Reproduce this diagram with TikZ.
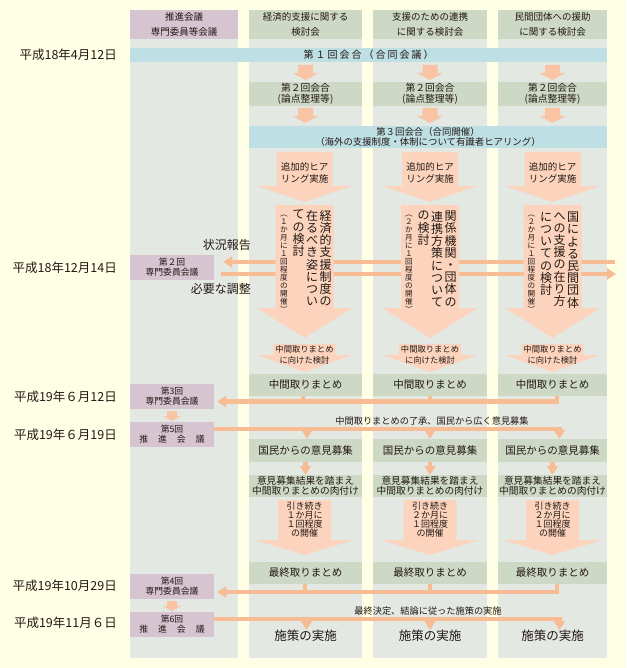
\documentclass[tikz,border=0pt]{standalone}
\usepackage{fontspec}
\setmainfont{Noto Sans CJK JP}
\usetikzlibrary{arrows.meta}
\definecolor{bgc}{HTML}{FFFFE5}
\definecolor{colc}{HTML}{E3E8E3}
\definecolor{grn}{HTML}{CDD9C4}
\definecolor{pur}{HTML}{D6C4D0}
\definecolor{blu}{HTML}{BEE0E4}
\definecolor{afill}{HTML}{FCD4BD}
\definecolor{linec}{HTML}{F8BC95}
\definecolor{sarr}{HTML}{F9C4A3}
\definecolor{txt}{HTML}{231815}
\newcommand\fsz[2]{\fontsize{#1}{#2}\selectfont}
\ExplSyntaxOn
\NewDocumentCommand\VStack{mm}{
  \vbox{\baselineskip=#1\lineskiplimit=-100pt\lineskip=0pt
    \tl_map_inline:nn {#2} { \hbox_to_wd:nn {1em} { \hss ##1 \hss } }
  }
}
\NewDocumentCommand\Spaced{mm}{
  \hbox:n { \kern-#1 \tl_map_inline:nn {#2} { \kern#1 ##1 } }
}
\ExplSyntaxOff
% color, cx, top, head start, tip, shaft half, head half
\newcommand\BlockArr[7]{\fill[#1] ({#2-#6},#3) -- ({#2+#6},#3) -- ({#2+#6},#4) -- ({#2+#7},#4) -- (#2,#5) -- ({#2-#7},#4) -- ({#2-#6},#4) -- cycle;}
\tikzset{
  box/.style={inner sep=0pt, align=center, text=txt},
  gbox/.style={box, fill=grn},
  hdr/.style={box, fill=grn, minimum height=29pt, font={\fsz{9.5}{15}}},
  pbox/.style={box, fill=pur, minimum width=84pt, minimum height=25pt, font={\fsz{8.8}{10}}},
  conn/.style={draw=linec, line width=4.5pt},
  tipL/.style={-{Triangle[length=9pt,width=11pt]}},
  vtxt/.style={inner sep=0pt, text=txt, anchor=north},
  date/.style={box, anchor=east, font={\fsz{12.5}{14}}},
}
\begin{document}
\begin{tikzpicture}[x=1pt,y=-1pt]
\useasboundingbox (0,0) rectangle (626,668);
\fill[bgc] (0,0) rectangle (626,668);
% column bodies
\fill[colc] (130,10) rectangle (238,658);
\fill[colc] (249,10) rectangle (362,658);
\fill[colc] (373,10) rectangle (487,658);
\fill[colc] (498,10) rectangle (607,658);
% headers
\node[box, fill=pur, minimum width=108pt, minimum height=29pt, font={\fsz{9.5}{15}}] (hL) at (184,24.5) {推進会議\\専門委員等会議};
\node[hdr, minimum width=113pt] (h1) at (305.5,24.5) {経済的支援に関する\\検討会};
\node[hdr, minimum width=114pt] (h2) at (430,24.5) {支援のための連携\\に関する検討会};
\node[hdr, minimum width=109pt] (h3) at (552.5,24.5) {民間団体への援助\\に関する検討会};
% row 1
\node[box, fill=blu, minimum width=477pt, minimum height=14pt, font={\fsz{10}{12}}] (r1) at (368.5,55) {\Spaced{2pt}{第１回会合（合同会議）}};
\BlockArr{sarr}{305.5}{65}{73}{80}{7.5}{13}
\BlockArr{sarr}{430}{65}{73}{80}{7.5}{13}
\BlockArr{sarr}{552.5}{65}{73}{80}{7.5}{13}
% row 2
\node[gbox, minimum width=113pt, minimum height=24pt, font={\fsz{9.8}{10.5}}] (a1) at (305.5,94) {第２回会合\\(論点整理等)};
\node[gbox, minimum width=114pt, minimum height=24pt, font={\fsz{9.8}{10.5}}] (a2) at (430,94) {第２回会合\\(論点整理等)};
\node[gbox, minimum width=109pt, minimum height=24pt, font={\fsz{9.8}{10.5}}] (a3) at (552.5,94) {第２回会合\\(論点整理等)};
\BlockArr{sarr}{305.5}{108}{116}{123}{7.5}{13}
\BlockArr{sarr}{430}{108}{116}{123}{7.5}{13}
\BlockArr{sarr}{552.5}{108}{116}{123}{7.5}{13}
% row 3
\node[box, fill=blu, minimum width=358pt, minimum height=22pt, font={\fsz{9.4}{10}}] (r3) at (428,137) {第３回会合（合同開催）\\（海外の支援制度・体制について有識者ヒアリング）};
% green boxes lower
\node[gbox, minimum width=113pt, minimum height=22pt, font={\fsz{10.5}{12}}] (m1) at (305.5,385) {中間取りまとめ};
\node[gbox, minimum width=114pt, minimum height=22pt, font={\fsz{10.5}{12}}] (m2) at (430,385) {中間取りまとめ};
\node[gbox, minimum width=109pt, minimum height=22pt, font={\fsz{10.5}{12}}] (m3) at (552.5,385) {中間取りまとめ};
\node[gbox, minimum width=113pt, minimum height=23pt, font={\fsz{10.5}{12}}] (n1) at (305.5,450.5) {国民からの意見募集};
\node[gbox, minimum width=114pt, minimum height=23pt, font={\fsz{10.5}{12}}] (n2) at (430,450.5) {国民からの意見募集};
\node[gbox, minimum width=109pt, minimum height=23pt, font={\fsz{10.5}{12}}] (n3) at (552.5,450.5) {国民からの意見募集};
\node[gbox, minimum width=113pt, minimum height=22pt, font={\fsz{9.7}{9.5}}] (k1) at (305.5,486) {意見募集結果を踏まえ\\中間取りまとめの肉付け};
\node[gbox, minimum width=114pt, minimum height=22pt, font={\fsz{9.7}{9.5}}] (k2) at (430,486) {意見募集結果を踏まえ\\中間取りまとめの肉付け};
\node[gbox, minimum width=109pt, minimum height=22pt, font={\fsz{9.7}{9.5}}] (k3) at (552.5,486) {意見募集結果を踏まえ\\中間取りまとめの肉付け};
\node[gbox, minimum width=113pt, minimum height=22pt, font={\fsz{10.5}{12}}] (f1) at (305.5,573) {最終取りまとめ};
\node[gbox, minimum width=114pt, minimum height=22pt, font={\fsz{10.5}{12}}] (f2) at (430,573) {最終取りまとめ};
\node[gbox, minimum width=109pt, minimum height=22pt, font={\fsz{10.5}{12}}] (f3) at (552.5,573) {最終取りまとめ};
\node[box, minimum height=12pt, font={\fsz{12.5}{14}}] (s1) at (305.5,636) {施策の実施};
\node[box, minimum height=12pt, font={\fsz{12.5}{14}}] (s2) at (430,636) {施策の実施};
\node[box, minimum height=12pt, font={\fsz{12.5}{14}}] (s3) at (552.5,636) {施策の実施};
% purple boxes
\node[pbox] (p2) at (172,267.5) {第２回\\専門委員会議};
\node[pbox] (p3) at (172,396.5) {第3回\\専門委員会議};
\node[pbox] (p5) at (172,434.5) {第5回\\\Spaced{10pt}{推進会議}};
\node[pbox] (p4) at (172,586.5) {第4回\\専門委員会議};
\node[pbox] (p6) at (172,624.5) {第6回\\\Spaced{10pt}{推進会議}};
\BlockArr{sarr}{172}{411}{416}{421}{5}{9}
\BlockArr{sarr}{172}{601}{606}{611}{5}{9}
% dates
\node[date] (d1) at (117,55) {平成18年4月12日};
\node[date] (d2) at (117,267.5) {平成18年12月14日};
\node[date] (d3) at (117,396.5) {平成19年６月12日};
\node[date] (d4) at (117,434.5) {平成19年６月19日};
\node[date] (d5) at (117,586) {平成19年10月29日};
\node[date] (d6) at (117,623) {平成19年11月６日};
% connectors
\coordinate (sR) at (615,262);
\coordinate (sR2) at (616,274);
\draw[conn, tipL] (sR) -- ([xshift=9pt,yshift=5.5pt]p2.east);
\draw[conn, tipL] ([xshift=7pt,yshift=-6.5pt]p2.east) -- (sR2);
\node[box, anchor=east, font={\fsz{12}{14}}] (lab1) at (251,245) {状況報告};
\node[box, anchor=east, font={\fsz{12}{14}}] (lab2) at (251,289) {必要な調整};
% interim summary line
\coordinate (L3) at ([xshift=3pt,yshift=-5pt]p3.east);
\draw[conn, tipL] ([xshift=4.5pt]m3.south) |- (L3);
\draw[conn] ([xshift=-2.5pt]m1.south) -- ([xshift=-2.5pt]m1.south |- L3);
\draw[conn] (m2.south) -- (m2.south |- L3);
% 5th meeting line
\coordinate (L5) at ([yshift=5.5pt]p5.east);
\draw[conn, tipL] (L5) -| ([xshift=7pt]n3.north);
\draw[conn, tipL] ([xshift=1.5pt]n1.north |- L5) -- ([xshift=1.5pt]n1.north);
\draw[conn, tipL] (n2.north |- L5) -- (n2.north);
\node[box, font={\fsz{9.2}{10}}] (t1) at (432,421.5) {中間取りまとめの了承、国民から広く意見募集};
\draw[conn, tipL] (n1.south) -- (k1.north);
\draw[conn, tipL] (n2.south) -- (k2.north);
\draw[conn, tipL] (n3.south) -- (k3.north);
% final summary line
\coordinate (L4) at ([xshift=3pt,yshift=-5.5pt]p4.east);
\draw[conn, tipL] ([xshift=4.5pt]f3.south) |- (L4);
\draw[conn] ([xshift=-0.5pt]f1.south) -- ([xshift=-0.5pt]f1.south |- L4);
\draw[conn] (f2.south) -- (f2.south |- L4);
% 6th meeting line
\coordinate (L6) at ([yshift=5.5pt]p6.east);
\draw[conn, tipL] (L6) -| ([xshift=7pt]s3.north);
\draw[conn, tipL] ([xshift=1pt]s1.north |- L6) -- ([xshift=1pt]s1.north);
\draw[conn, tipL] (s2.north |- L6) -- (s2.north);
\node[box, font={\fsz{9.2}{10}}] (t2) at (428,611.5) {最終決定、結論に従った施策の実施};
% big arrows
\foreach \cx in {304.5,430,552.5}{
  \BlockArr{afill}{\cx}{152}{186}{202}{28}{47.5}
  \BlockArr{afill}{\cx}{205}{308}{338}{29}{47.5}
  \BlockArr{afill}{\cx}{344}{355}{372}{31}{47.5}
  \BlockArr{afill}{\cx}{500}{540}{555}{26.5}{49}
}
% arrow texts
\node[box, font={\fsz{9.5}{12}}] (e1) at (304.5,173) {追加的ヒア\\リング実施};
\node[box, font={\fsz{9.5}{12}}] (e2) at (430,173) {追加的ヒア\\リング実施};
\node[box, font={\fsz{9.5}{12}}] (e3) at (552.5,173) {追加的ヒア\\リング実施};
\node[box, font={\fsz{8.3}{11}}] (g1) at (304.5,354.5) {中間取りまとめ\\に向けた検討};
\node[box, font={\fsz{8.3}{11}}] (g2) at (430,354.5) {中間取りまとめ\\に向けた検討};
\node[box, font={\fsz{8.3}{11}}] (g3) at (552.5,354.5) {中間取りまとめ\\に向けた検討};
\node[box, font={\fsz{9}{9}}] (j1) at (304.5,519.5) {引き続き\\１か月に\\１回程度\\の開催};
\node[box, font={\fsz{9}{9}}] (j2) at (430,519.5) {引き続き\\２か月に\\１回程度\\の開催};
\node[box, font={\fsz{9}{9}}] (j3) at (552.5,519.5) {引き続き\\２か月に\\１回程度\\の開催};
% vertical texts col 1
\node[vtxt, font={\fsz{12}{12.2}}] (v1a) at (325.5,210) {\VStack{12.2pt}{経済的支援制度の}};
\node[vtxt, font={\fsz{12}{12.2}}] (v1b) at (312,210) {\VStack{12.2pt}{在るべき姿につい}};
\node[vtxt, font={\fsz{12}{12.2}}] (v1c) at (298.5,210) {\VStack{12.2pt}{ての検討}};
\node[vtxt, font={\fsz{7.6}{8}}] (v1d) at (284,215) {\VStack{8pt}{︵１か月に１回程度の開催︶}};
% col 2
\node[vtxt, font={\fsz{12}{12.2}}] (v2a) at (450.5,211) {\VStack{12.2pt}{関係機関・団体の}};
\node[vtxt, font={\fsz{12}{12.2}}] (v2b) at (437,211) {\VStack{12.2pt}{連携方策について}};
\node[vtxt, font={\fsz{12}{12.2}}] (v2c) at (423.5,211) {\VStack{12.2pt}{の検討}};
\node[vtxt, font={\fsz{7.6}{8}}] (v2d) at (409,215) {\VStack{8pt}{︵２か月に１回程度の開催︶}};
% col 3
\node[vtxt, font={\fsz{12}{12.2}}] (v3a) at (573,212) {\VStack{12.2pt}{国による民間団体}};
\node[vtxt, font={\fsz{12}{12.2}}] (v3b) at (559.5,212) {\VStack{12.2pt}{への支援の在り方}};
\node[vtxt, font={\fsz{12}{12.2}}] (v3c) at (546,212) {\VStack{12.2pt}{についての検討}};
\node[vtxt, font={\fsz{7.6}{8}}] (v3d) at (531.5,215) {\VStack{8pt}{︵２か月に１回程度の開催︶}};
\end{tikzpicture}
\end{document}
